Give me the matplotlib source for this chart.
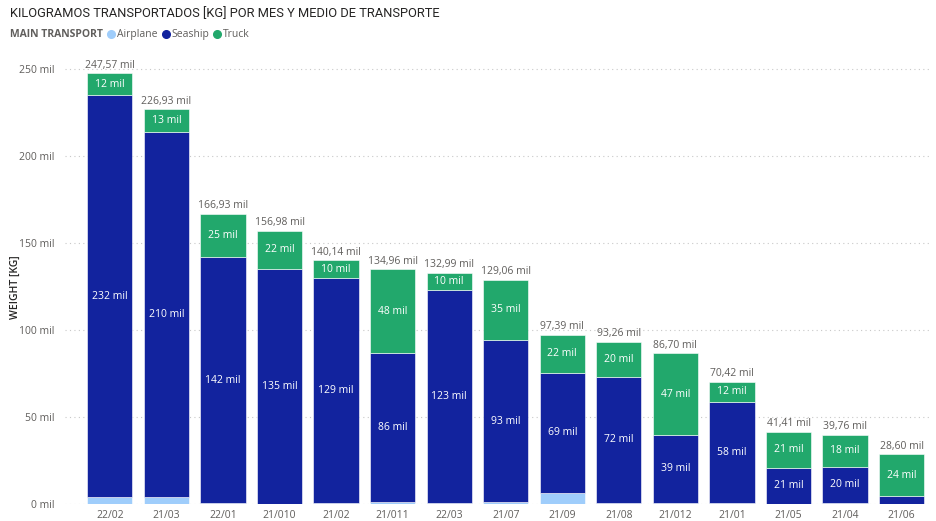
import matplotlib.pyplot as plt
from matplotlib.lines import Line2D

months = ['22/02', '21/03', '22/01', '21/010', '21/02', '21/011', '22/03', '21/07',
          '21/09', '21/08', '21/012', '21/01', '21/05', '21/04', '21/06']
totals = [247.57, 226.93, 166.93, 156.98, 140.14, 134.96, 132.99, 129.06,
          97.39, 93.26, 86.70, 70.42, 41.41, 39.76, 28.60]
airplane = [3.8, 3.8, 0.3, 0.2, 0.5, 1.0, 0.3, 1.2, 6.4, 0.8, 0.8, 0.3, 0.2, 0.8, 0.2]
truck = [12.2, 13.0, 25.0, 21.8, 10.2, 48.0, 9.8, 35.0, 22.0, 20.3, 47.0, 12.0, 20.6, 18.5, 24.0]
seaship = [t - a - k for t, a, k in zip(totals, airplane, truck)]

c_air = '#9fcdfb'
c_sea = '#12239e'
c_truck = '#22a86c'
grey = '#605e5c'

plt.rcParams['font.family'] = ['Open Sans', 'DejaVu Sans']

fig = plt.figure(figsize=(9.36, 5.21), dpi=100)
ax = fig.add_axes([0.069, 0.0326, 0.9245, 0.868])

x = list(range(len(months)))
w = 0.8
ax.bar(x, airplane, w, color=c_air, edgecolor='white', linewidth=0.4, zorder=3)
ax.bar(x, seaship, w, bottom=airplane, color=c_sea, edgecolor='white', linewidth=0.4, zorder=3)
bottoms = [a + s for a, s in zip(airplane, seaship)]
ax.bar(x, truck, w, bottom=bottoms, color=c_truck, edgecolor='white', linewidth=0.4, zorder=3)

for i in x:
    if seaship[i] > 8:
        ax.text(i, airplane[i] + seaship[i] / 2, '%d mil' % round(seaship[i]),
                ha='center', va='center', color='white', fontsize=7.5, zorder=4)
    ax.text(i, bottoms[i] + truck[i] / 2, '%d mil' % round(truck[i]),
            ha='center', va='center', color='white', fontsize=7.5, zorder=4)
    ax.text(i, totals[i] + 1.5, ('%.2f mil' % totals[i]).replace('.', ','),
            ha='center', va='bottom', color=grey, fontsize=7.5, zorder=4)

ax.set_xlim(-0.8, 14.5)
ax.set_ylim(0, 260)
ax.set_yticks([0, 50, 100, 150, 200, 250])
ax.set_yticklabels(['%d mil' % v for v in [0, 50, 100, 150, 200, 250]])
ax.set_xticks(x)
ax.set_xticklabels(months)
ax.tick_params(length=0, labelsize=7.5, colors=grey, pad=4)
ax.tick_params(axis='y', pad=7)
ax.yaxis.grid(True, linestyle=(0, (1, 3)), color='#c8c8c8', linewidth=0.8, zorder=0)
for s in ax.spines.values():
    s.set_visible(False)
ax.set_ylabel('WEIGHT [KG]', fontsize=7.5, color='#252423', fontweight='semibold')
ax.yaxis.set_label_coords(-0.05, 0.48)

fig.text(0.011, 0.975, 'KILOGRAMOS TRANSPORTADOS [KG] POR MES Y MEDIO DE TRANSPORTE',
         fontsize=9.3, family='Roboto', color='#252423', va='center')
fig.text(0.011, 0.933, 'MAIN TRANSPORT', fontsize=7.5, fontweight='bold',
         color='#605e5c', va='center')
handles = [Line2D([], [], marker='o', linestyle='', color=c, markersize=5.5)
           for c in [c_air, c_sea, c_truck]]
leg = fig.legend(handles, ['Airplane', 'Seaship', 'Truck'], loc='center left',
                 bbox_to_anchor=(0.113, 0.933), ncol=3, frameon=False, fontsize=7.5,
                 handletextpad=0.05, columnspacing=0.3, handlelength=1.0,
                 borderaxespad=0, borderpad=0)
for t in leg.get_texts():
    t.set_color(grey)

plt.savefig('out.png', dpi=100)
